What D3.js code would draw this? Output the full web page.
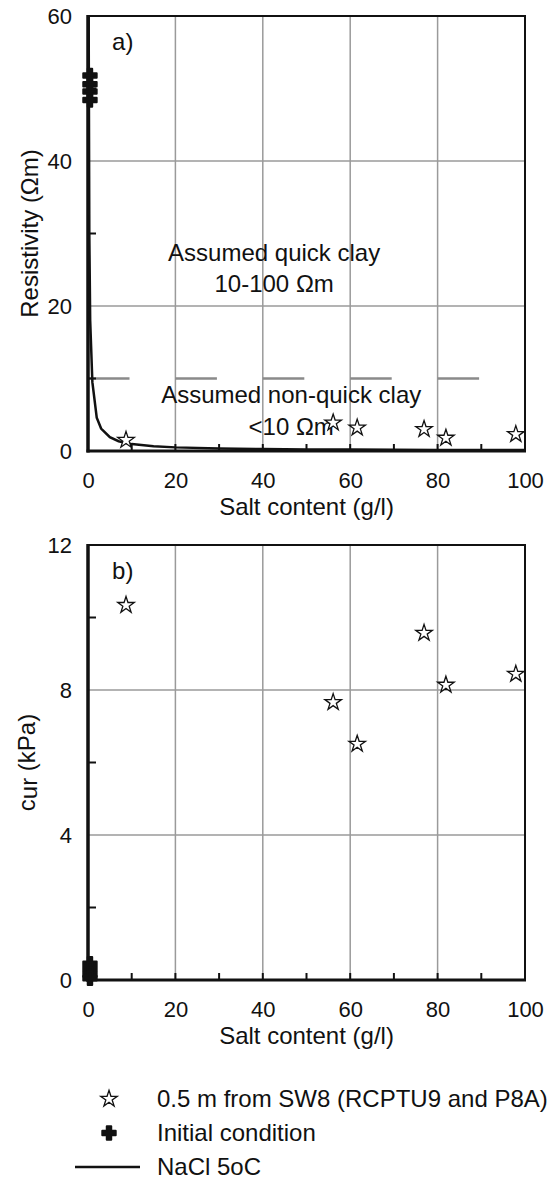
<!DOCTYPE html>
<html><head><meta charset="utf-8">
<script src="https://cdn.jsdelivr.net/npm/d3@7"></script>
<style>body{margin:0;background:#fff}svg text{font-family:"Liberation Sans",Arial,sans-serif;fill:#111}</style>
</head><body><svg id="c" width="553" height="1180"></svg>
<script>
// ---- data ----
const xTicks = [0, 20, 40, 60, 80, 100];
const xMinor = [10, 20, 30, 40, 50, 60, 70, 80, 90];
const yTicksA = [0, 20, 40, 60];
const yMinorA = [10, 30, 50];
const yTicksB = [0, 4, 8, 12];
const yMinorB = [2, 6, 10];

// 0.5 m from SW8 (RCPTU9 and P8A)
const starSalt = [8.7, 56.1, 61.6, 76.9, 81.9, 97.9];
const starRes  = [1.5, 3.9, 3.2, 3.0, 1.8, 2.3];
const starCur  = [10.34, 7.66, 6.51, 9.57, 8.14, 8.44];

// Initial condition
const initSalt = [0.45, 0.45, 0.45, 0.45];
const initRes  = [51.8, 50.6, 49.6, 48.4];
const initCur  = [0.45, 0.3, 0.15, 0.05];

// NaCl 5oC curve
const naclSalt = [0.15, 0.3, 0.5, 1, 2, 3, 5, 7, 10, 15, 20, 30, 40, 50, 60, 70, 80, 90, 100];
const naclRes  = [60, 30, 18, 9.5, 4.6, 3.1, 1.9, 1.35, 0.95, 0.65, 0.5, 0.34, 0.26, 0.22, 0.19, 0.17, 0.15, 0.14, 0.13];

// 10 Ohm m threshold (dashed)
const dashStart = [0, 20, 40, 60, 80];
const dashLen = 9.5;
const threshold = 10;

const legendLabels = ["0.5 m from SW8 (RCPTU9 and P8A)", "Initial condition", "NaCl 5oC"];

// ---- layout ----
const svg = d3.select("#c");
const x = d3.scaleLinear([0, 100], [88, 525]);
const ya = d3.scaleLinear([0, 60], [451, 16]);
const yb = d3.scaleLinear([0, 12], [980, 545]);
const grid = "#9a9a9a";
const starSym = d3.symbol(d3.symbolStar, 85);
const crossSym = d3.symbol(d3.symbolCross, 100);

function panel(y, yTicks, yMinor, label, yTitle, yTitleX, drawExtra) {
  const g = svg.append("g");
  const [y0, y1] = y.range();
  // grid
  g.selectAll(".vg").data(xTicks.slice(1, -1)).join("line")
    .attr("x1", d => x(d)).attr("x2", d => x(d)).attr("y1", y0).attr("y2", y1)
    .attr("stroke", grid).attr("stroke-width", 1.5);
  g.selectAll(".hg").data(yTicks.slice(1, -1)).join("line")
    .attr("x1", x(0)).attr("x2", x(100)).attr("y1", d => y(d)).attr("y2", d => y(d))
    .attr("stroke", grid).attr("stroke-width", 1.5);
  if (drawExtra) drawExtra(g);
  // frame
  g.append("rect").attr("x", x(0)).attr("y", y1).attr("width", x(100) - x(0)).attr("height", y0 - y1)
    .attr("fill", "none").attr("stroke", "#111").attr("stroke-width", 2);
  g.append("line").attr("x1", x(0)).attr("x2", x(0)).attr("y1", y1 - 1).attr("y2", y0 + 1.5)
    .attr("stroke", "#111").attr("stroke-width", 3.5);
  g.append("line").attr("x1", x(0) - 1.5).attr("x2", x(100) + 1).attr("y1", y0).attr("y2", y0)
    .attr("stroke", "#111").attr("stroke-width", 3);
  // minor ticks inward
  g.selectAll(".xt").data(xMinor).join("line")
    .attr("x1", d => x(d)).attr("x2", d => x(d)).attr("y1", y0).attr("y2", y0 - 7)
    .attr("stroke", "#111").attr("stroke-width", 2);
  g.selectAll(".yt").data(yMinor).join("line")
    .attr("x1", x(0)).attr("x2", x(0) + 8).attr("y1", d => y(d)).attr("y2", d => y(d))
    .attr("stroke", "#111").attr("stroke-width", 2);
  // axes labels
  const ax = g.append("g").attr("transform", `translate(0,${y0})`)
    .call(d3.axisBottom(x).tickValues(xTicks).tickSize(0).tickPadding(21));
  ax.select(".domain").remove();
  ax.selectAll("text").attr("font-size", 22).style("font-family", '"Liberation Sans",Arial,sans-serif').attr("fill", "#111");
  const ay = g.append("g").attr("transform", `translate(${x(0)},0)`)
    .call(d3.axisLeft(y).tickValues(yTicks).tickSize(0).tickPadding(16));
  ay.select(".domain").remove();
  ay.selectAll("text").attr("font-size", 22).style("font-family", '"Liberation Sans",Arial,sans-serif').attr("fill", "#111");
  // x title
  g.append("text").attr("x", (x(0) + x(100)) / 2).attr("y", y0 + 64).attr("text-anchor", "middle")
    .attr("font-size", 24).text("Salt content (g/l)");
  // y title
  yTitle(g.append("text").attr("font-size", 24).attr("text-anchor", "middle")
    .attr("transform", `translate(${yTitleX},${(y0 + y1) / 2}) rotate(-90)`));
  // panel label
  g.append("text").attr("x", x(5.5)).attr("y", y(y.domain()[1]) + 34)
    .attr("font-size", 24).text(label);
  return g;
}

// Panel a
const ga = panel(ya, yTicksA, yMinorA, "a)", t => t.text("Resistivity (Ωm)"), 38, g => {
  g.selectAll(".dash").data(dashStart).join("line")
    .attr("x1", d => x(d)).attr("x2", d => x(d + dashLen)).attr("y1", ya(threshold)).attr("y2", ya(threshold))
    .attr("stroke", "#8a8a8a").attr("stroke-width", 2.5);
});
ga.append("defs").append("clipPath").attr("id", "clipA").append("rect")
  .attr("x", x(0)).attr("y", ya(60)).attr("width", x(100) - x(0)).attr("height", ya(0) - ya(60));
const curve = naclSalt.map((s, i) => [s, naclRes[i]]);
ga.append("path").attr("clip-path", "url(#clipA)").attr("d", d3.line().x(d => x(d[0])).y(d => ya(d[1]))(curve))
  .attr("fill", "none").attr("stroke", "#111").attr("stroke-width", 2.5);
const ann = [
  {t: "Assumed quick clay", sx: 42.6, v: 26.2},
  {t: "10-100 Ωm", sx: 42.6, v: 22.0},
  {t: "Assumed non-quick clay", sx: 46.5, v: 6.6},
  {t: "<10 Ωm", sx: 46.5, v: 2.2}
];
ga.selectAll(".ann").data(ann).join("text").attr("x", d => x(d.sx)).attr("y", d => ya(d.v))
  .attr("text-anchor", "middle").attr("font-size", 24).text(d => d.t);
ga.selectAll(".st").data(starSalt).join("path")
  .attr("transform", (d, i) => `translate(${x(d)},${ya(starRes[i])})`).attr("d", starSym)
  .attr("fill", "#fff").attr("stroke", "#111").attr("stroke-width", 1.3);
ga.selectAll(".cr").data(initSalt).join("path")
  .attr("transform", (d, i) => `translate(${x(d)},${ya(initRes[i])})`).attr("d", crossSym)
  .attr("fill", "#111").attr("stroke", "#111").attr("stroke-width", 2).attr("stroke-linejoin", "round");

// Panel b
const gb = panel(yb, yTicksB, yMinorB, "b)", t => {
  t.append("tspan").text("c");
  t.append("tspan").attr("dy", 2).text("ur");
  t.append("tspan").attr("dy", -2).text(" (kPa)");
}, 35, null);
gb.selectAll(".st").data(starSalt).join("path")
  .attr("transform", (d, i) => `translate(${x(d)},${yb(starCur[i])})`).attr("d", starSym)
  .attr("fill", "#fff").attr("stroke", "#111").attr("stroke-width", 1.3);
gb.selectAll(".cr").data(initSalt).join("path")
  .attr("transform", (d, i) => `translate(${x(d)},${yb(initCur[i])})`).attr("d", crossSym)
  .attr("fill", "#111").attr("stroke", "#111").attr("stroke-width", 2).attr("stroke-linejoin", "round");

// Legend
const lg = svg.append("g");
const rowY = d3.scaleBand().domain(legendLabels).range([1086, 1188]);
lg.selectAll("text").data(legendLabels).join("text")
  .attr("x", 157).attr("y", d => rowY(d) + 21).attr("font-size", 24).text(d => d);
lg.append("path").attr("transform", `translate(109,${rowY(legendLabels[0]) + 13})`).attr("d", starSym)
  .attr("fill", "#fff").attr("stroke", "#111").attr("stroke-width", 1.3);
lg.append("path").attr("transform", `translate(109,${rowY(legendLabels[1]) + 13})`).attr("d", crossSym)
  .attr("fill", "#111").attr("stroke", "#111").attr("stroke-width", 2).attr("stroke-linejoin", "round");
lg.append("line").attr("x1", 75).attr("x2", 140).attr("y1", rowY(legendLabels[2]) + 13).attr("y2", rowY(legendLabels[2]) + 13)
  .attr("stroke", "#111").attr("stroke-width", 2.5);
</script></body></html>
